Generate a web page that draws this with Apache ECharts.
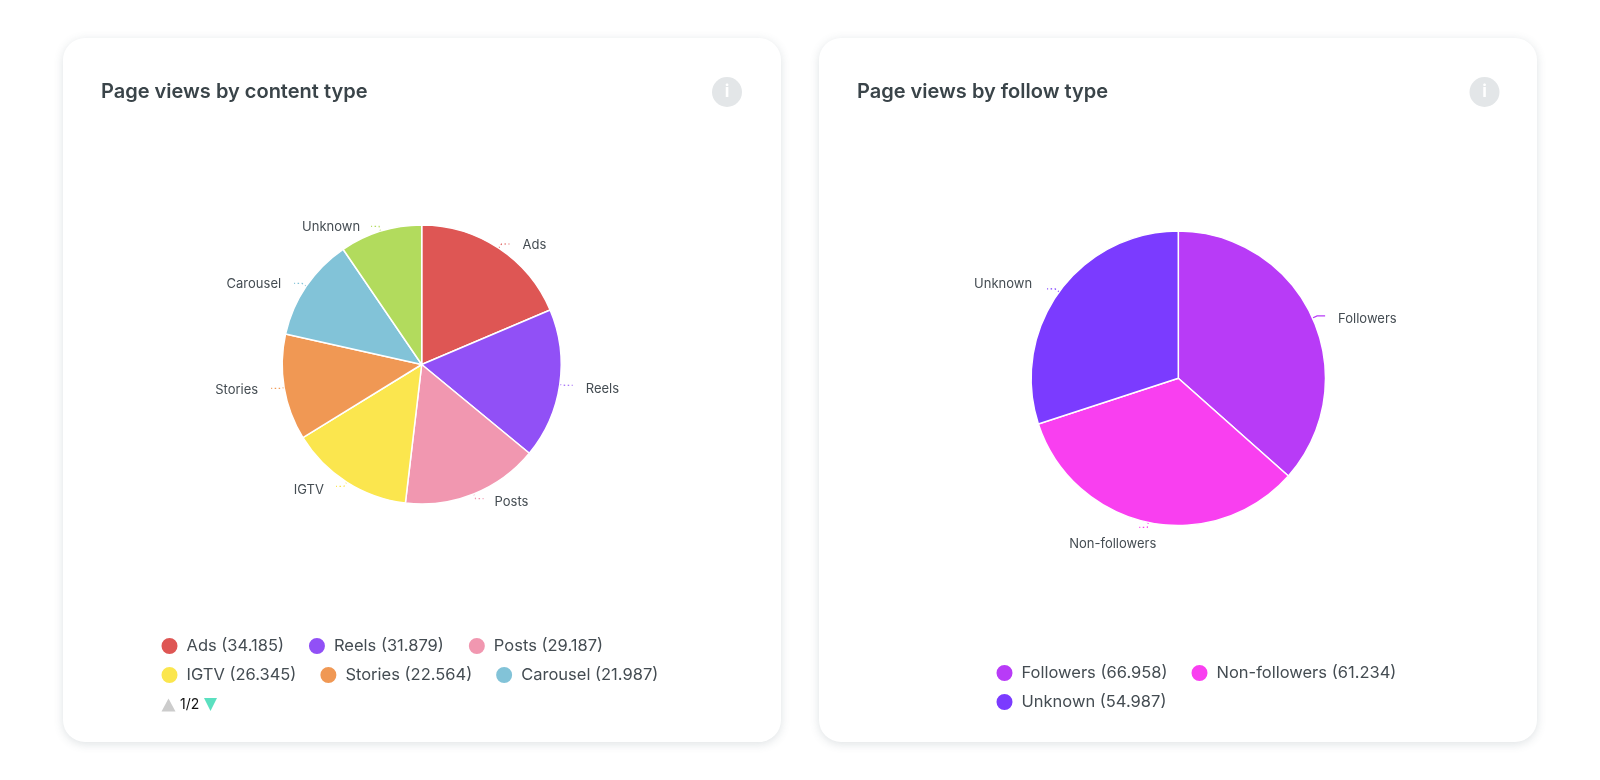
<!DOCTYPE html>
<html>
<head>
<meta charset="utf-8">
<style>
  html, body { margin: 0; background: #fff; }
  .card { position: absolute; top: 38px; width: 718px; height: 704px; background: #fff; border-radius: 22px;
    box-shadow: 0 2px 10px rgba(70, 95, 105, .18); }
  #chart { position: absolute; left: 0; top: 0; width: 1600px; height: 780px; }
</style>
</head>
<body>
<div class="card" style="left:63px"></div>
<div class="card" style="left:819px"></div>
<div id="chart"></div>
<script src="https://cdn.jsdelivr.net/npm/echarts@6/dist/echarts.min.js"></script>
<script>
const contentNames = ['Ads', 'Reels', 'Posts', 'IGTV', 'Stories', 'Carousel', 'Unknown']
const contentValues = [34.185, 31.879, 29.187, 26.345, 22.564, 21.987, 17.5]
const contentColors = ['#de5654', '#9150f6', '#f197b0', '#fbe64e', '#f09854', '#82c3d8', '#b2db5d']

const followNames = ['Followers', 'Non-followers', 'Unknown']
const followValues = [66.958, 61.234, 54.987]
const followColors = ['#b83bf7', '#f93ff0', '#7b3bff']

const FONT = 'Inter, "Noto Sans", sans-serif'
const TEXT = '#444c52'

function pieSeries(names, values, colors, center, radius, offsets) {
  return {
    type: 'pie',
    center,
    radius,
    startAngle: 90,
    clockwise: true,
    silent: true,
    avoidLabelOverlap: false,
    data: names.map((name, i) => ({
      name,
      value: values[i],
      itemStyle: { color: colors[i] },
      labelLine: name === 'Followers' ? { lineStyle: { type: 'solid' } } : undefined,
    })),
    itemStyle: { borderColor: '#fff', borderWidth: 1.5 },
    label: { color: TEXT, fontFamily: FONT, fontSize: 13, distanceToLabelLine: 13 },
    labelLine: { length: 5, length2: 8, lineStyle: { type: [1.5, 2.5], width: 1.2 } },
    labelLayout: p => offsets[p.dataIndex] || {},
  }
}

// one legend per row, the row spacing is tighter than a wrapped legend allows
function legendRow(names, allNames, values, colors, left, top, itemGap) {
  return {
    left,
    top,
    itemGap,
    itemWidth: 24,
    itemHeight: 18,
    padding: 0,
    icon: 'circle',
    selectedMode: false,
    data: names.map(name => ({ name, itemStyle: { color: colors[allNames.indexOf(name)] } })),
    formatter: name => `${name} (${values[allNames.indexOf(name)].toFixed(3)})`,
    textStyle: { color: TEXT, fontFamily: FONT, fontSize: 16.5 },
  }
}

function infoIcon(x, y) {
  return [
    { type: 'circle', shape: { cx: x, cy: y, r: 15 }, style: { fill: '#e3e6e8' } },
    { type: 'text', x, y, style: { text: 'i', fill: '#fff', font: 'bold 17px ' + FONT, align: 'center', verticalAlign: 'middle' } },
  ]
}

const chart = echarts.init(document.getElementById('chart'), null, { renderer: 'canvas' })

chart.setOption({
  animation: false,
  backgroundColor: 'transparent',
  title: [
    { text: 'Page views by content type', left: 96, top: 77, textStyle: { color: '#3a4449', fontFamily: FONT, fontSize: 20, fontWeight: 600 } },
    { text: 'Page views by follow type', left: 852, top: 77, textStyle: { color: '#3a4449', fontFamily: FONT, fontSize: 20, fontWeight: 600 } },
  ],
  legend: [
    legendRow(['Ads', 'Reels', 'Posts'], contentNames, contentValues, contentColors, 159.5, 636, 23),
    legendRow(['IGTV', 'Stories', 'Carousel'], contentNames, contentValues, contentColors, 159.5, 665, 22),
    legendRow(['Followers', 'Non-followers'], followNames, followValues, followColors, 994.5, 663, 22),
    legendRow(['Unknown'], followNames, followValues, followColors, 994.5, 692, 22),
  ],
  series: [
    pieSeries(contentNames, contentValues, contentColors, [421.7, 364.5], 139.5, {
      0: { dy: 1 }, 1: { dy: 4 }, 2: { dx: -2, dy: 4 }, 3: { dx: 1, dy: 4 }, 4: { dy: 2 }, 5: { dy: 1 }, 6: { dx: 2, dy: 1 },
    }),
    pieSeries(followNames, followValues, followColors, [1178.3, 378.3], 147.2, {
      0: { dy: 3 }, 1: { dx: 30, dy: 17 }, 2: { dx: -2, dy: -5 },
    }),
  ],
  graphic: [
    ...infoIcon(727, 92),
    ...infoIcon(1484.5, 92),
    // legend pager, page 1 of 2
    { type: 'polygon', shape: { points: [[168.5, 698.5], [161.5, 711.5], [175.5, 711.5]] }, style: { fill: '#cccccc' } },
    { type: 'text', x: 180, y: 705, style: { text: '1/2', fill: '#111', font: '14px ' + FONT, verticalAlign: 'middle' } },
    { type: 'polygon', shape: { points: [[204, 698], [217, 698], [210.5, 711]] }, style: { fill: '#5be0c0' } },
  ],
})
</script>
</body>
</html>
